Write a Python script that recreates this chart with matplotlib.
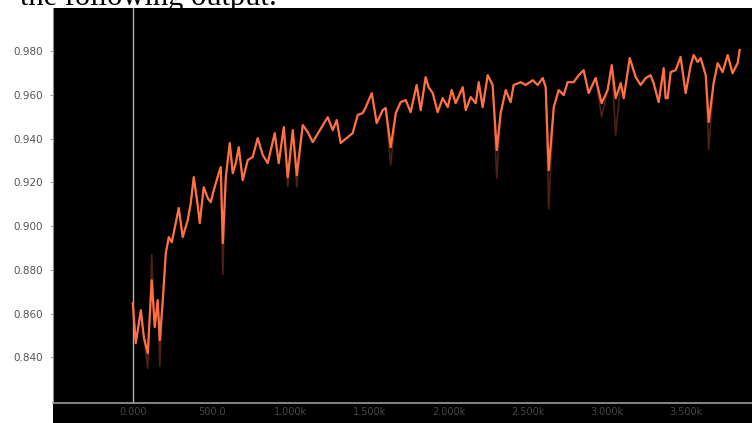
import matplotlib
matplotlib.use("Agg")
import matplotlib.pyplot as plt
from matplotlib.patches import Rectangle

steps = [0, 19, 51, 70, 95, 120, 139, 158, 171, 190, 209, 228, 247, 259, 291, 316, 348, 367, 386, 411,
         424, 449, 475, 494, 513, 544, 557, 570, 589, 614, 633, 652, 671, 696, 728, 759, 791, 823, 854, 886,
         899, 924, 956, 981, 1013, 1038, 1076, 1108, 1139, 1177, 1234, 1266, 1291, 1316, 1361, 1392, 1424, 1456, 1475, 1513,
         1544, 1582, 1601, 1633, 1665, 1696, 1728, 1759, 1797, 1823, 1854, 1873, 1899, 1930, 1962, 1994, 2019, 2044, 2089, 2108,
         2139, 2171, 2190, 2215, 2247, 2278, 2304, 2329, 2361, 2392, 2411, 2456, 2487, 2532, 2563, 2595, 2614, 2633, 2665, 2696,
         2728, 2753, 2791, 2823, 2854, 2886, 2930, 2968, 3006, 3032, 3057, 3089, 3108, 3146, 3184, 3215, 3247, 3278, 3297, 3329,
         3361, 3373, 3386, 3405, 3437, 3468, 3500, 3532, 3551, 3576, 3595, 3627, 3646, 3677, 3703, 3734, 3766, 3797, 3829, 3842]
accuracy = [0.8648, 0.8466, 0.8616, 0.8493, 0.8420, 0.8753, 0.8539, 0.8662, 0.8479, 0.8662, 0.8877, 0.8950, 0.8927, 0.8968, 0.9083, 0.8950, 0.9028, 0.9105, 0.9224, 0.9096,
            0.9014, 0.9178, 0.9128, 0.9110, 0.9165, 0.9242, 0.9270, 0.8923, 0.9224, 0.9380, 0.9242, 0.9288, 0.9361, 0.9210, 0.9302, 0.9316, 0.9402, 0.9325, 0.9288, 0.9384,
            0.9425, 0.9288, 0.9453, 0.9224, 0.9439, 0.9233, 0.9462, 0.9430, 0.9384, 0.9430, 0.9498, 0.9439, 0.9485, 0.9380, 0.9407, 0.9425, 0.9508, 0.9517, 0.9544, 0.9608,
            0.9471, 0.9530, 0.9540, 0.9361, 0.9517, 0.9567, 0.9576, 0.9521, 0.9645, 0.9530, 0.9681, 0.9635, 0.9608, 0.9521, 0.9585, 0.9544, 0.9622, 0.9562, 0.9635, 0.9530,
            0.9590, 0.9562, 0.9658, 0.9544, 0.9690, 0.9645, 0.9348, 0.9517, 0.9622, 0.9567, 0.9645, 0.9658, 0.9645, 0.9667, 0.9645, 0.9677, 0.9635, 0.9256, 0.9544, 0.9622,
            0.9599, 0.9658, 0.9658, 0.9690, 0.9713, 0.9608, 0.9677, 0.9562, 0.9622, 0.9736, 0.9585, 0.9654, 0.9585, 0.9768, 0.9681, 0.9645, 0.9677, 0.9690, 0.9654, 0.9567,
            0.9722, 0.9585, 0.9585, 0.9704, 0.9713, 0.9773, 0.9608, 0.9736, 0.9782, 0.9750, 0.9768, 0.9690, 0.9476, 0.9654, 0.9745, 0.9704, 0.9782, 0.9699, 0.9745, 0.9805]

# raw (unsmoothed) values that dip/peak beyond the smoothed curve
raw_spike_steps = [95, 120, 171, 570, 981, 1038, 1633, 2304, 2633, 2968, 3057, 3646]
raw_spike_values = [0.8350, 0.8870, 0.8360, 0.8780, 0.9180, 0.9180, 0.9280, 0.9220, 0.9080, 0.9500, 0.9416, 0.9350]

xticks = [0, 500, 1000, 1500, 2000, 2500, 3000, 3500]
xtick_labels = ["0.000", "500.0", "1.000k", "1.500k", "2.000k", "2.500k", "3.000k", "3.500k"]
yticks = [0.84, 0.86, 0.88, 0.90, 0.92, 0.94, 0.96, 0.98]
ytick_labels = ["0.840", "0.860", "0.880", "0.900", "0.920", "0.940", "0.960", "0.980"]

raw_map = dict(zip(raw_spike_steps, raw_spike_values))
raw_values = [raw_map.get(s, v) for s, v in zip(steps, accuracy)]

fig = plt.figure(figsize=(7.52, 4.23), dpi=100, facecolor="white")
left, right = 53 / 752, 1.0
bottom, top = 1 - 403 / 423, 1 - 8 / 423
# black strip below the axis (drawn first)
fig.patches.append(Rectangle((left, 0), right - left, bottom + 0.01, transform=fig.transFigure,
                             facecolor="black", edgecolor="none", zorder=-5))
ax = fig.add_axes([left, bottom, right - left, top - bottom])
ax.set_zorder(1)
ax.set_facecolor("black")

ax.plot(steps, raw_values, color="#ff7043", lw=1.2, alpha=0.3, zorder=2)
ax.plot(steps, accuracy, color="#ff7043", lw=1.6, zorder=3)
ax.axvline(0, color="#b0b0b0", lw=1.0, zorder=1)

ax.set_xlim(-505, 3920)
ax.set_ylim(0.8192, 0.9997)

ax.set_yticks(yticks)
ax.set_yticklabels(ytick_labels, color="#555555", fontsize=7.5, family="DejaVu Sans")
ax.tick_params(axis="y", length=2, width=0.8, color="#aaaaaa", pad=5)
ax.set_xticks(xticks)
ax.set_xticklabels(xtick_labels, color="#474747", fontsize=7, family="DejaVu Sans")
ax.tick_params(axis="x", length=0, pad=3)

for s in ["top", "right"]:
    ax.spines[s].set_visible(False)
ax.spines["bottom"].set_color("#9a9a9a")
ax.spines["bottom"].set_linewidth(1.2)
ax.spines["left"].set_color("#8a8a8a")
ax.spines["left"].set_linewidth(0.8)

fig.text(277 / 752, 1 - 4.5 / 423, "the following output:", family="Liberation Serif", fontsize=22,
         color="black", va="baseline", ha="right", zorder=0)

fig.savefig("out.png", dpi=100, facecolor="white")
